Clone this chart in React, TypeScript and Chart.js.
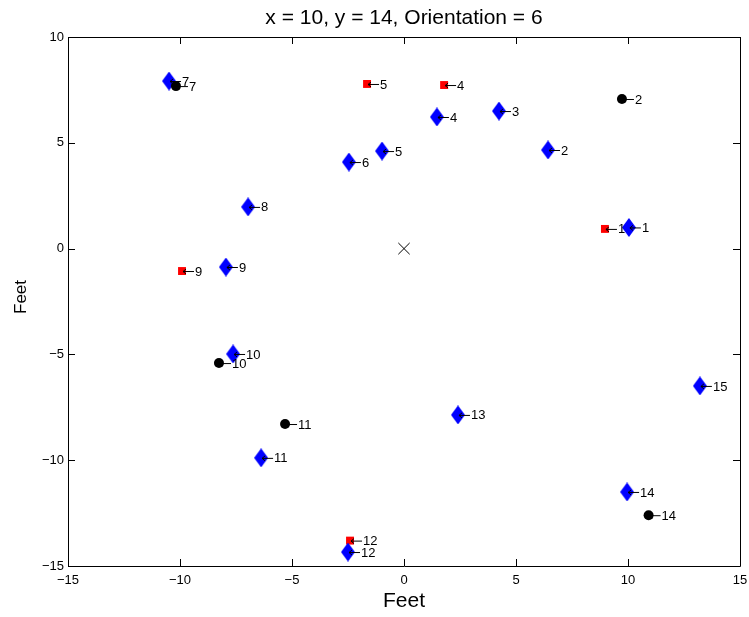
import React, { useEffect, useRef } from "react";
import { Chart, registerables } from "chart.js";
Chart.register(...registerables);

const TITLE = "x = 10, y = 14, Orientation = 6";
const X_TITLE = "Feet";
const Y_TITLE = "Feet";
const X_MIN = -15, X_MAX = 15, Y_MIN = -15, Y_MAX = 10, STEP = 5;

const blueX = [10.04, 6.43, 4.24, 1.47, -0.98, -2.46, -10.49, -6.96, -7.95, -7.63, -6.38, -2.5, 2.41, 9.96, 13.21];
const blueY = [1.0, 4.66, 6.5, 6.22, 4.61, 4.09, 7.92, 1.97, -0.87, -4.98, -9.89, -14.34, -7.86, -11.5, -6.49];
const blueLabels = ["1", "2", "3", "4", "5", "6", "7", "8", "9", "10", "11", "12", "13", "14", "15"];

const blackX = [9.73, -10.18, -8.26, -5.31, 10.92];
const blackY = [7.07, 7.68, -5.41, -8.29, -12.6];
const blackLabels = ["2", "7", "10", "11", "14"];

const redX = [8.97, 1.79, -1.65, -9.91, -2.41];
const redY = [0.93, 7.73, 7.78, -1.06, -13.8];
const redLabels = ["1", "4", "5", "9", "12"];

const originX = [0];
const originY = [0];

const FONT = '"Liberation Sans", Arial, Helvetica, sans-serif';

function makeDiamond(w: number, h: number, color: string) {
  const c = document.createElement("canvas");
  c.width = w;
  c.height = h;
  const g = c.getContext("2d")!;
  g.fillStyle = color;
  g.beginPath();
  g.moveTo(w / 2, 0);
  g.lineTo(w, h / 2);
  g.lineTo(w / 2, h);
  g.lineTo(0, h / 2);
  g.closePath();
  g.fill();
  return c;
}

const pts = (xs: number[], ys: number[]) => xs.map((x, i) => ({ x, y: ys[i] }));

const labelPlugin = {
  id: "ptLabels",
  afterDatasetsDraw(chart: any) {
    const ctx = chart.ctx;
    chart.data.datasets.forEach((ds: any, i: number) => {
      const labels: string[] | undefined = ds.ptLabels;
      if (!labels) return;
      const meta = chart.getDatasetMeta(i);
      meta.data.forEach((el: any, j: number) => {
        const x = el.x, y = el.y;
        ctx.save();
        ctx.strokeStyle = "#000";
        ctx.lineWidth = 1;
        ctx.beginPath();
        ctx.moveTo(x + 1, y + 0.5);
        ctx.lineTo(x + 12, y + 0.5);
        ctx.moveTo(x + 1, y + 0.5);
        ctx.lineTo(x + 4, y - 2);
        ctx.moveTo(x + 1, y + 0.5);
        ctx.lineTo(x + 4, y + 3);
        ctx.stroke();
        ctx.fillStyle = "#000";
        ctx.font = `13px ${FONT}`;
        ctx.textAlign = "left";
        ctx.textBaseline = "middle";
        ctx.fillText(labels[j], x + 13, y + 1);
        ctx.restore();
      });
    });
  },
};

const framePlugin = {
  id: "frame",
  afterDraw(chart: any) {
    const ctx = chart.ctx;
    const { left, right, top, bottom } = chart.chartArea;
    const xs = chart.scales.x, ys = chart.scales.y;
    const TL = 7;
    ctx.save();
    ctx.strokeStyle = "#000";
    ctx.lineWidth = 1;
    ctx.beginPath();
    ctx.rect(Math.round(left) + 0.5, Math.round(top) + 0.5, Math.round(right - left), Math.round(bottom - top));
    xs.ticks.forEach((t: any) => {
      const px = Math.round(xs.getPixelForValue(t.value)) + 0.5;
      ctx.moveTo(px, bottom);
      ctx.lineTo(px, bottom - TL);
      ctx.moveTo(px, top);
      ctx.lineTo(px, top + TL);
    });
    ys.ticks.forEach((t: any) => {
      const py = Math.round(ys.getPixelForValue(t.value)) + 0.5;
      ctx.moveTo(left, py);
      ctx.lineTo(left + TL, py);
      ctx.moveTo(right, py);
      ctx.lineTo(right - TL, py);
    });
    ctx.stroke();

    ctx.fillStyle = "#000";
    ctx.textAlign = "center";
    ctx.font = `21px ${FONT}`;
    ctx.textBaseline = "alphabetic";
    ctx.fillText(TITLE, (left + right) / 2, 24);

    ctx.font = `21px ${FONT}`;
    ctx.textBaseline = "middle";
    ctx.fillText(X_TITLE, (left + right) / 2, 601);

    ctx.save();
    ctx.translate(21, 297);
    ctx.rotate(-Math.PI / 2);
    ctx.font = `17px ${FONT}`;
    ctx.textBaseline = "middle";
    ctx.fillText(Y_TITLE, 0, 0);
    ctx.restore();
    ctx.restore();
  },
};

export default function App() {
  const ref = useRef<HTMLCanvasElement>(null);
  useEffect(() => {
    document.body.style.margin = "0";
    const diamond = makeDiamond(14, 19, "#0000ff");
    const fmt = (v: any) => String(v).replace("-", "\u2212");
    const chart = new Chart(ref.current!, {
      type: "scatter",
      data: {
        datasets: [
          {
            label: "black",
            data: pts(blackX, blackY),
            pointStyle: "circle",
            pointRadius: 5,
            backgroundColor: "#000",
            borderColor: "#000",
            borderWidth: 0,
            ptLabels: blackLabels,
          } as any,
          {
            label: "blue",
            data: pts(blueX, blueY),
            pointStyle: diamond as any,
            pointRadius: 8,
            backgroundColor: "#0000ff",
            borderColor: "#0000ff",
            borderWidth: 0,
            ptLabels: blueLabels,
          } as any,
          {
            label: "red",
            data: pts(redX, redY),
            pointStyle: "rect",
            pointRadius: 5.6,
            backgroundColor: "#ff0000",
            borderColor: "#ff0000",
            borderWidth: 0,
            ptLabels: redLabels,
          } as any,
          {
            label: "origin",
            data: pts(originX, originY),
            pointStyle: "crossRot",
            pointRadius: 8,
            backgroundColor: "#000",
            borderColor: "#000",
            borderWidth: 1,
          } as any,
        ],
      },
      options: {
        responsive: false,
        animation: false,
        events: [],
        layout: { padding: { top: 37, right: 9, left: 0, bottom: 0 } },
        plugins: {
          legend: { display: false },
          tooltip: { enabled: false },
          title: { display: false },
        },
        scales: {
          x: {
            type: "linear",
            min: X_MIN,
            max: X_MAX,
            ticks: {
              stepSize: STEP,
              color: "#000",
              font: { family: FONT, size: 13 },
              padding: 7,
              maxRotation: 0,
              callback: fmt,
            },
            grid: { display: false, drawTicks: false },
            border: { display: false },
            afterFit: (s: any) => {
              s.height = 51;
              s.paddingLeft = 0;
              s.paddingRight = 0;
            },
          },
          y: {
            type: "linear",
            min: Y_MIN,
            max: Y_MAX,
            ticks: {
              stepSize: STEP,
              color: "#000",
              font: { family: FONT, size: 13 },
              padding: 4,
              callback: fmt,
            },
            grid: { display: false, drawTicks: false },
            border: { display: false },
            afterFit: (s: any) => {
              s.width = 68;
              s.paddingTop = 0;
              s.paddingBottom = 0;
            },
          },
        },
      },
      plugins: [labelPlugin, framePlugin],
    });
    return () => chart.destroy();
  }, []);
  return (
    <div style={{ width: 749, height: 617, background: "#fff" }}>
      <canvas ref={ref} width={749} height={617} />
    </div>
  );
}
